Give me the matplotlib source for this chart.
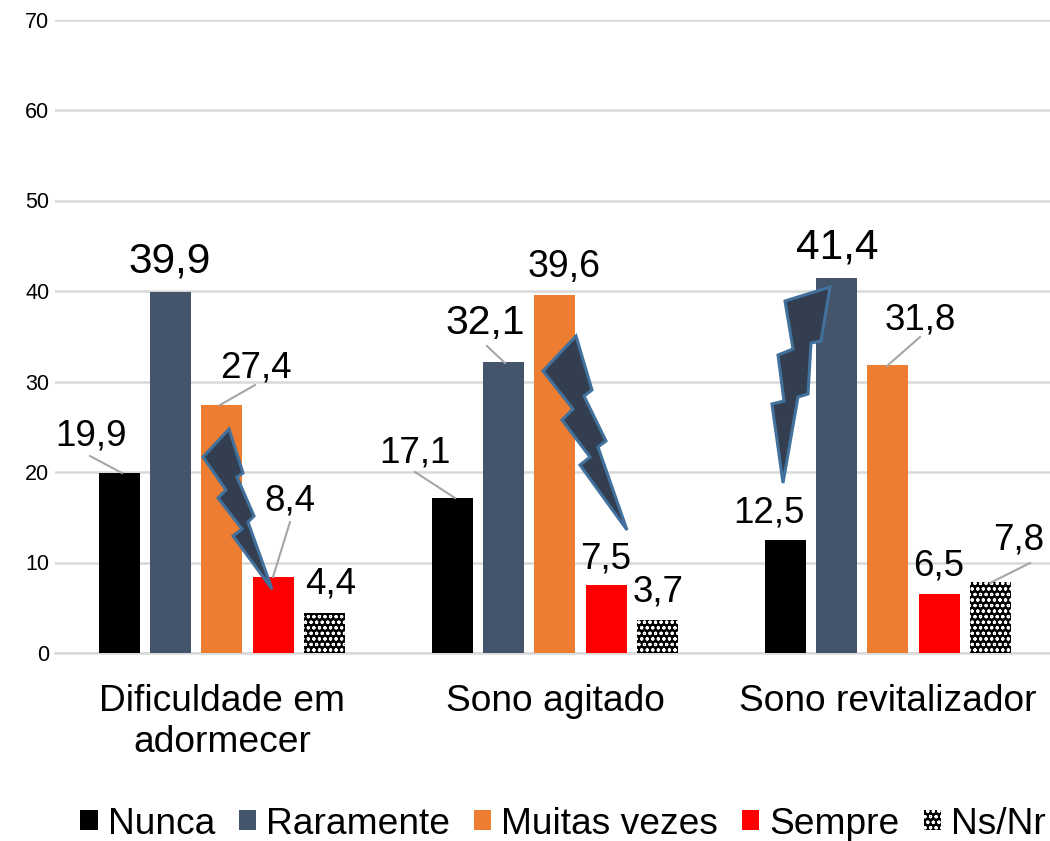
import matplotlib
matplotlib.use("Agg")
import matplotlib.pyplot as plt
import numpy as np
from matplotlib.patches import Polygon

plt.rcParams['font.family'] = ['Liberation Sans', 'DejaVu Sans']
plt.rcParams['hatch.linewidth'] = 0.8

W, H = 1050, 841

categories = ["Dificuldade em\nadormecer", "Sono agitado", "Sono revitalizador"]
series = ["Nunca", "Raramente", "Muitas vezes", "Sempre", "Ns/Nr"]
nunca = [19.9, 17.1, 12.5]
raramente = [39.9, 32.1, 41.4]
muitas_vezes = [27.4, 39.6, 31.8]
sempre = [8.4, 7.5, 6.5]
ns_nr = [4.4, 3.7, 7.8]
values = [nunca, raramente, muitas_vezes, sempre, ns_nr]
colors = ["#000000", "#44546A", "#ED7D31", "#FF0000", "#000000"]

# label centres in pixels, font sizes, per series then per category
label_pos = [
    [(91, 436), (415, 453), (769, 513)],
    [(170, 261), (485, 323), (837, 247)],
    [(256, 368), (564, 267), (920, 320)],
    [(290, 501), (606, 559), (939, 566)],
    [(331, 584), (658, 592), (1019, 540)],
]
label_size = [
    [26.5, 26.5, 26.5],
    [30.5, 29.5, 30.5],
    [26.5, 27, 26.5],
    [26.5, 26.5, 26.5],
    [26.5, 26.5, 26.5],
]
# leader lines, pixels
leaders = [
    ((90, 456), (122, 473)),
    ((255, 385), (220, 405)),
    ((290, 522), (273, 577)),
    ((487, 346), (505, 363)),
    ((415, 472), (455, 498)),
    ((920, 337), (887, 366)),
    ((1030, 563), (990, 583)),
]
# lightning bolts, pixels
bolts = [
    [(229, 429), (243, 473), (237, 477), (254, 516), (248, 522), (272, 589),
     (233, 536), (242, 529), (218, 498), (226, 490), (203, 457)],
    [(576, 336), (592, 390), (584, 396), (606, 441), (598, 447), (627, 530),
     (580, 465), (590, 457), (562, 420), (573, 409), (543, 371)],
    [(830, 287), (821, 341), (811, 343), (808, 394), (798, 397), (783, 483),
     (772, 404), (784, 401), (778, 355), (793, 349), (785, 301)],
]


def px(p):
    return (p[0] / W, 1 - p[1] / H)


fig = plt.figure(figsize=(W / 100, H / 100), dpi=100)
ax = fig.add_axes([55 / W, 1 - 653 / H, (W - 55) / W, (653 - 19.5) / H])

x = np.arange(len(categories))
width = 41 / 333
step = 51.2 / 333
handles = []
for i, name in enumerate(series):
    pos = x + (i - 2) * step
    if name == "Ns/Nr":
        b = ax.bar(pos, values[i], width, color="black", edgecolor="white",
                   hatch="ooo", linewidth=0, zorder=3, label=name)
    else:
        b = ax.bar(pos, values[i], width, color=colors[i], zorder=3, label=name)
    handles.append(b)

ax.set_xlim(-0.5015, 2.4865)
ax.set_ylim(0, 70)
ax.set_yticks(range(0, 71, 10))
ax.set_xticks(x)
ax.set_xticklabels(categories, fontsize=26.7, linespacing=1.24)
ax.tick_params(axis='x', length=0, pad=22)
ax.tick_params(axis='y', length=0, pad=4, labelsize=15.5)
ax.grid(axis='y', color="#D9D9D9", linewidth=1.8, zorder=0)
ax.set_axisbelow(True)
for s in ['top', 'right', 'left']:
    ax.spines[s].set_visible(False)
ax.spines['bottom'].set_color("#D9D9D9")
ax.spines['bottom'].set_linewidth(1.8)

# leader lines
for a, b in leaders:
    fig.add_artist(plt.Line2D([px(a)[0], px(b)[0]], [px(a)[1], px(b)[1]],
                              color="#A6A6A6", linewidth=1.5, zorder=5))

# lightning bolts on top of the bars
for pts in bolts:
    fig.add_artist(Polygon([px(p) for p in pts], closed=True, transform=fig.transFigure,
                           facecolor="#333F50", edgecolor="#41719C", linewidth=2.2,
                           joinstyle='miter', zorder=6))

# data labels
for i in range(len(series)):
    for j in range(len(categories)):
        txt = f"{values[i][j]:.1f}".replace(".", ",")
        fx, fy = px(label_pos[i][j])
        fig.text(fx, fy, txt, fontsize=label_size[i][j], ha='center',
                 va='center', color="black", zorder=7)

fig.legend(handles=handles, loc='center', bbox_to_anchor=(563 / W, 1 - 824 / H),
           ncol=5, frameon=False, fontsize=26.7, handlelength=0.46, handleheight=0.46,
           handletextpad=0.27, columnspacing=0.65, borderpad=0)

fig.savefig("out.png", dpi=100)
